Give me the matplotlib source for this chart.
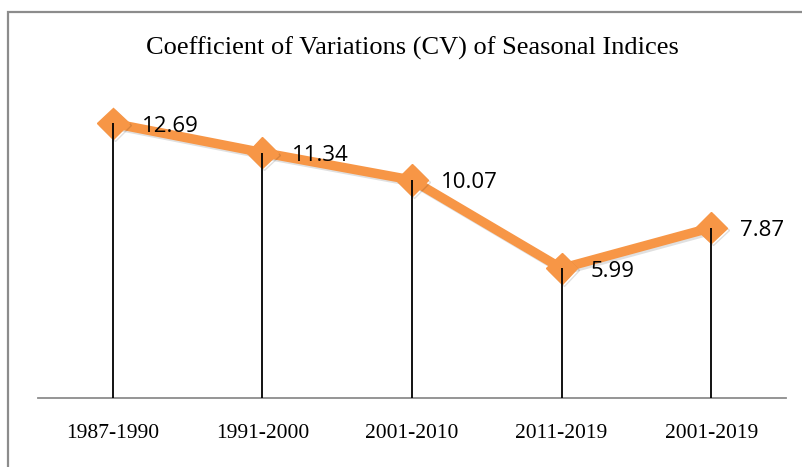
import matplotlib.pyplot as plt
import matplotlib.patheffects as pe
from matplotlib.patches import Rectangle

# data
periods = ["1987-1990", "1991-2000", "2001-2010", "2011-2019", "2001-2019"]
cv_values = [12.69, 11.34, 10.07, 5.99, 7.87]

W, H = 802, 467
fig = plt.figure(figsize=(W / 100, H / 100), dpi=100)

# chart border (only top and left visible in the crop)
fig.patches.append(Rectangle((8 / W, -0.05), 1.2, (H - 12) / H + 0.05,
                             transform=fig.transFigure, fill=False,
                             edgecolor="#8c8c8c", linewidth=1.6))

# plot area: x from 38 to 786 px, y axis at 398 px, top ~95 px (value 14)
ax = fig.add_axes([38 / W, (H - 398) / H, (786 - 38) / W, (398 - 95) / H])
x = list(range(len(periods)))

shadow = [pe.SimpleLineShadow(offset=(1.5, -1.5), alpha=0.12), pe.Normal()]
ax.plot(x, cv_values, color="#F79646", linewidth=6.8, marker="D",
        markersize=16, solid_joinstyle="round", zorder=3, path_effects=shadow)

# drop lines, drawn over the markers like in the original
ax.vlines(x, 0, cv_values, color="black", linewidth=1.3, zorder=4)

for xi, v in zip(x, cv_values):
    ax.annotate(f"{v:.2f}", (xi, v), xytext=(21, -2), textcoords="offset points",
                ha="left", va="center", fontsize=16, family="Open Sans", zorder=5)

ax.set_xlim(-0.5, len(periods) - 0.5)
ax.set_ylim(0, 14)
ax.set_xticks(x)
ax.set_xticklabels(periods, family="Liberation Serif", fontsize=15.5)
ax.tick_params(axis="x", length=0, pad=19)
ax.set_yticks([])
for s in ["top", "right", "left"]:
    ax.spines[s].set_visible(False)
ax.spines["bottom"].set_color("#8c8c8c")
ax.spines["bottom"].set_linewidth(1.3)

fig.text(412 / W, 1 - 48 / H, "Coefficient of Variations (CV) of Seasonal Indices",
         ha="center", va="center", family="Liberation Serif", fontsize=19)

fig.savefig("out.png", dpi=100)
